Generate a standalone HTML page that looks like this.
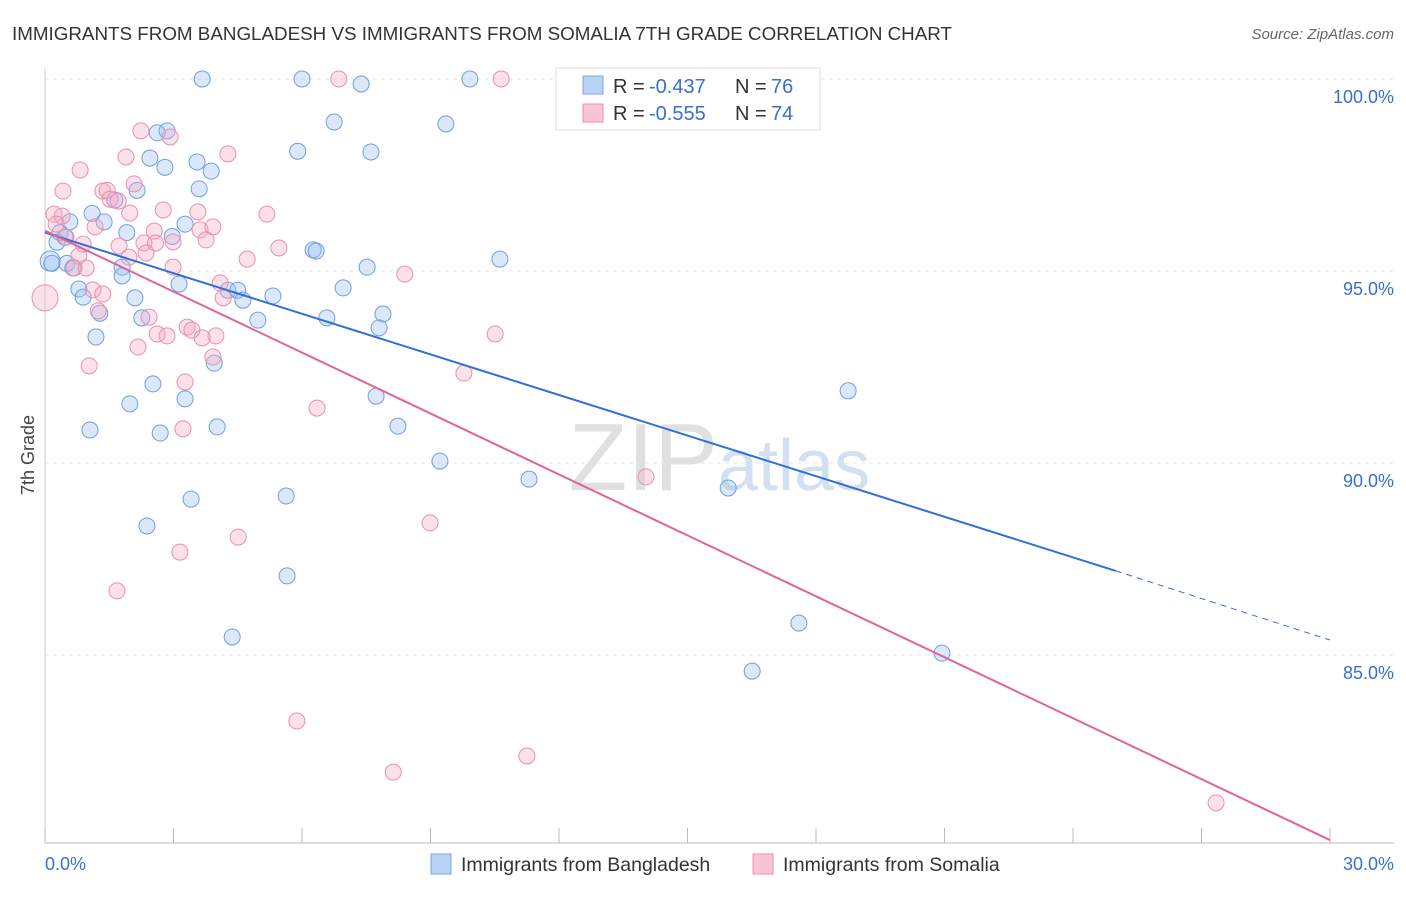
<!DOCTYPE html>
<html><head><meta charset="utf-8"><style>
body{margin:0;background:#fff;font-family:"Liberation Sans",sans-serif}
svg text{font-family:"Liberation Sans",sans-serif}
</style></head><body>
<svg id="c" width="1406" height="892">
<text x="12" y="40" font-size="18" fill="#333" textLength="940" lengthAdjust="spacingAndGlyphs">IMMIGRANTS FROM BANGLADESH VS IMMIGRANTS FROM SOMALIA 7TH GRADE CORRELATION CHART</text>
<text x="1394" y="39" font-size="15" fill="#666" font-style="italic" text-anchor="end">Source: ZipAtlas.com</text>
<text x="34" y="455" font-size="18" fill="#444" transform="rotate(-90 34 455)" text-anchor="middle">7th Grade</text>
<text x="718" y="490" font-size="96" fill="#e0e0e0" text-anchor="end" font-family="Liberation Serif">ZIP</text>
<text x="718" y="490" font-size="72" fill="#d2e0f1">atlas</text>
<g id="grid"></g><g id="pts"></g><g id="lines"></g>
<g>
<rect x="556" y="68" width="264" height="62" fill="#fff" stroke="#ddd"/>
<rect x="583" y="76" width="20" height="18" fill="#b9d3f5" stroke="#7aa6e0"/>
<text x="613" y="93" font-size="20" fill="#333">R =</text>
<text x="649" y="93" font-size="20" fill="#3a6fd0">-0.437</text>
<text x="735" y="93" font-size="20" fill="#333">N =</text>
<text x="771" y="93" font-size="20" fill="#3a6fd0">76</text>
<rect x="583" y="104" width="20" height="18" fill="#f9c5d5" stroke="#e890ae"/>
<text x="613" y="120" font-size="20" fill="#333">R =</text>
<text x="649" y="120" font-size="20" fill="#3a6fd0">-0.555</text>
<text x="735" y="120" font-size="20" fill="#333">N =</text>
<text x="771" y="120" font-size="20" fill="#3a6fd0">74</text>
</g>
<g>
<rect x="431" y="854" width="20" height="20" fill="#b9d3f5" stroke="#7aa6e0"/>
<text x="461" y="871" font-size="19.5" fill="#333">Immigrants from Bangladesh</text>
<rect x="753" y="854" width="20" height="20" fill="#f9c5d5" stroke="#e890ae"/>
<text x="783" y="871" font-size="19.5" fill="#333">Immigrants from Somalia</text>
</g>
</svg>
<script>
const xTicks=[0,3,6,9,12,15,18,21,24,27,30];
const yTicks=[100,95,90,85];
const yTickLabels=["100.0%","95.0%","90.0%","85.0%"];
const blueX=[3.67,6.0,9.92,7.38,6.75,9.36,2.62,2.85,5.9,7.61,2.45,2.8,3.55,3.88,2.15,3.6,1.63,1.1,1.38,0.58,3.27,1.91,2.97,0.35,0.28,0.47,6.26,6.33,10.62,0.12,0.16,0.51,1.8,7.52,0.65,1.8,3.13,6.96,0.79,4.27,4.5,4.62,5.32,0.89,2.1,1.28,2.26,4.97,6.58,7.89,7.8,1.19,3.95,2.52,18.75,7.73,3.27,1.98,4.02,8.24,1.05,2.69,9.22,11.3,15.95,3.41,5.63,2.38,5.65,17.6,20.94,4.37,16.51];
const blueY=[100,100,100,99.87,98.88,98.83,98.6,98.65,98.12,98.1,97.94,97.7,97.84,97.6,97.1,97.14,96.85,96.5,96.28,96.28,96.22,96.0,95.9,96,95.75,95.88,95.55,95.52,95.31,95.26,95.2,95.2,95.1,95.1,95.08,94.87,94.66,94.56,94.53,94.5,94.5,94.24,94.35,94.32,94.3,93.9,93.78,93.72,93.78,93.88,93.52,93.28,92.6,92.06,91.88,91.74,91.67,91.54,90.94,90.96,90.86,90.78,90.05,89.58,89.35,89.06,89.14,88.36,87.06,85.83,85.05,85.47,84.58];
const blueR=[];
const pinkX=[6.86,10.65,2.24,2.92,4.27,1.89,0.82,0.42,2.08,1.35,1.45,1.52,1.71,0.21,0.4,0.26,2.76,1.98,3.57,5.18,1.17,3.62,3.92,0.49,2.55,3.76,0.89,1.73,2.31,2.58,2.99,5.46,0.79,1.96,2.36,4.72,0.68,0.96,2.99,8.4,4.09,1.12,1.35,0,4.16,1.24,2.43,3.32,2.62,2.85,3.43,3.99,10.51,3.67,2.17,3.92,1.03,9.78,3.27,6.35,3.22,14.03,8.99,4.51,3.15,1.68,5.88,11.25,8.13,27.34];
const pinkY=[100,100,98.65,98.49,98.05,97.97,97.63,97.08,97.27,97.08,97.1,96.87,96.82,96.48,96.43,96.22,96.59,96.51,96.54,96.48,96.15,96.07,96.15,95.88,96.04,95.81,95.7,95.65,95.73,95.73,95.76,95.6,95.39,95.36,95.47,95.31,95.08,95.08,95.1,94.92,94.69,94.51,94.4,94.3,94.3,93.96,93.8,93.54,93.36,93.31,93.46,93.31,93.36,93.26,93.02,92.76,92.53,92.34,92.11,91.43,90.89,89.64,88.44,88.07,87.68,86.67,83.28,82.37,81.95,81.15];
const blueFit=[96.0,87.19,85.39];
const pinkFit=[96.05,80.18];
const NS="http://www.w3.org/2000/svg";
const X=v=>45+v*(1330-45)/30, Y=v=>79+(100-v)*38.4;
function mk(t,a,p){const e=document.createElementNS(NS,t);for(const k in a)e.setAttribute(k,a[k]);p.appendChild(e);return e;}
const g=document.getElementById('grid');
yTicks.forEach((t,i)=>{const l=mk('line',{x1:45,x2:1394,y1:Y(t),y2:Y(t),stroke:'#e4e4e4','stroke-dasharray':'4,4'},g);


const tx=mk('text',{x:1394,y:Y(t)+24,'font-size':18,fill:'#3a6fd0','text-anchor':'end'},g);tx.textContent=yTickLabels[i];

});
const ax=mk('line',{x1:45,x2:1394,y1:843,y2:843,stroke:'#bbb'},g);


const ay=mk('line',{x1:45,x2:45,y1:68,y2:843,stroke:'#ccc'},g);


xTicks.forEach(t=>{const l=mk('line',{x1:X(t),x2:X(t),y1:828,y2:843,stroke:'#bbb'},g);

});
const t0=mk('text',{x:45,y:870,'font-size':18,fill:'#3a6fd0'},g);t0.textContent='0.0%';


const t1=mk('text',{x:1394,y:870,'font-size':18,fill:'#3a6fd0','text-anchor':'end'},g);t1.textContent='30.0%';


const p=document.getElementById('pts');
blueX.forEach((x,i)=>{const big=(i===29);const c=mk('circle',{cx:X(x),cy:Y(blueY[i]),r:big?10:8,fill:'rgba(150,190,240,0.35)',stroke:'#6f9fe0','stroke-width':1},p);

});
pinkX.forEach((x,i)=>{const big=(pinkX[i]===0);const c=mk('circle',{cx:X(x),cy:Y(pinkY[i]),r:big?13:8,fill:'rgba(245,170,195,0.35)',stroke:'#e890ae','stroke-width':1},p);

});
const L=document.getElementById('lines');
const b1=mk('line',{x1:X(0),y1:Y(blueFit[0]),x2:X(25),y2:Y(blueFit[1]),stroke:'#2f6fd6','stroke-width':2},L);


const b2=mk('line',{x1:X(25),y1:Y(blueFit[1]),x2:X(30),y2:Y(blueFit[2]),stroke:'#2f6fd6','stroke-width':1,'stroke-dasharray':'6,5'},L);


const p1=mk('line',{x1:X(0),y1:Y(pinkFit[0]),x2:X(30),y2:Y(pinkFit[1]),stroke:'#e0649a','stroke-width':2},L);


</script>
</body></html>
